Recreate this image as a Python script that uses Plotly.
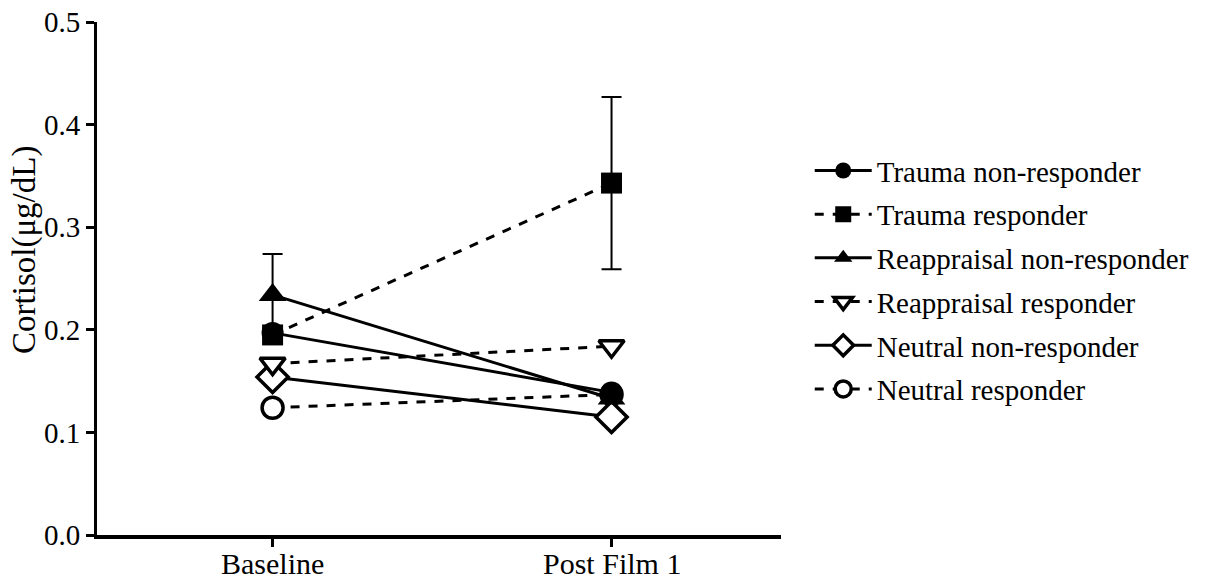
import plotly.graph_objects as go

categories = ["Baseline", "Post Film 1"]
series_names = ["Trauma non-responder", "Trauma responder", "Reappraisal non-responder",
                "Reappraisal responder", "Neutral non-responder", "Neutral responder"]
trauma_nonresp = [0.197, 0.139]
trauma_resp = [0.195, 0.343]
trauma_resp_err = [0.0, 0.084]
reapp_nonresp = [0.234, 0.133]
reapp_nonresp_err = [0.040, 0.0]
reapp_resp = [0.167, 0.184]
neutral_nonresp = [0.154, 0.115]
neutral_resp = [0.124, 0.137]
y_ticks = [0.0, 0.1, 0.2, 0.3, 0.4, 0.5]

xpos = list(range(len(categories)))
FONT = "Liberation Serif, Times New Roman, serif"

specs = [
    # name, values, err, symbol, fill, dash, rank, size
    ("Neutral responder", neutral_resp, None, "circle", "white", "dash", 6, 21),
    ("Neutral non-responder", neutral_nonresp, None, "diamond", "white", "solid", 5, 24),
    ("Reappraisal responder", reapp_resp, None, "triangle-down", "white", "dash", 4, 22),
    ("Reappraisal non-responder", reapp_nonresp, reapp_nonresp_err, "triangle-up", "black", "solid", 3, 24),
    ("Trauma non-responder", trauma_nonresp, None, "circle", "black", "solid", 1, 22),
    ("Trauma responder", trauma_resp, trauma_resp_err, "square", "black", "dash", 2, 21),
]

fig = go.Figure()
for name, vals, err, sym, fill, dash, rank, size in specs:
    kw = {}
    if err is not None:
        kw["error_y"] = dict(type="data", array=err, visible=True, color="black",
                             thickness=2, width=10)
    fig.add_trace(go.Scatter(
        x=xpos, y=vals, name=name, mode="lines+markers", legendrank=rank,
        legendgroup=name,
        line=dict(color="black", width=3, dash=dash),
        marker=dict(symbol=sym, size=size, color=fill,
                    line=dict(color="black", width=3.5 if fill == "white" else 0)),
        **kw))

annotations = [dict(text="Cortisol(μg/dL)", textangle=-90, xref="paper", yref="paper",
                    x=-0.105, y=0.556, xanchor="center", yanchor="middle",
                    showarrow=False, font=dict(family=FONT, size=33))]
for xi, cat in zip(xpos, categories):
    annotations.append(dict(text=cat, xref="x", yref="paper", x=xi, y=-0.0546,
                            xanchor="center", yanchor="middle", showarrow=False,
                            font=dict(family=FONT, size=30)))

fig.update_layout(
    width=1206, height=579,
    paper_bgcolor="white", plot_bgcolor="white",
    margin=dict(l=97, r=423, t=22, b=44),
    font=dict(family=FONT, size=28, color="black"),
    legend=dict(x=1.042, y=0.76, xanchor="left", yanchor="top",
                font=dict(family=FONT, size=29), tracegroupgap=3,
                traceorder="grouped", itemwidth=57, bgcolor="rgba(0,0,0,0)"),
    showlegend=True,
    annotations=annotations,
)
fig.update_xaxes(
    range=[-0.518, 1.5], tickvals=xpos, ticktext=["", ""], automargin=False,
    showline=True, linecolor="black", linewidth=3.5, showgrid=False, zeroline=False,
    ticks="outside", ticklen=8, tickwidth=3, tickcolor="black",
)
fig.update_yaxes(
    range=[0, 0.5], tickvals=y_ticks, tickformat=".1f", automargin=False,
    showline=True, linecolor="black", linewidth=3, showgrid=False, zeroline=False,
    ticks="outside", ticklen=8, tickwidth=3, tickcolor="black",
    tickfont=dict(family=FONT, size=29),
)
fig.write_html("out.html", post_script="document.body.style.margin='0';",
               config={"displayModeBar": False})
